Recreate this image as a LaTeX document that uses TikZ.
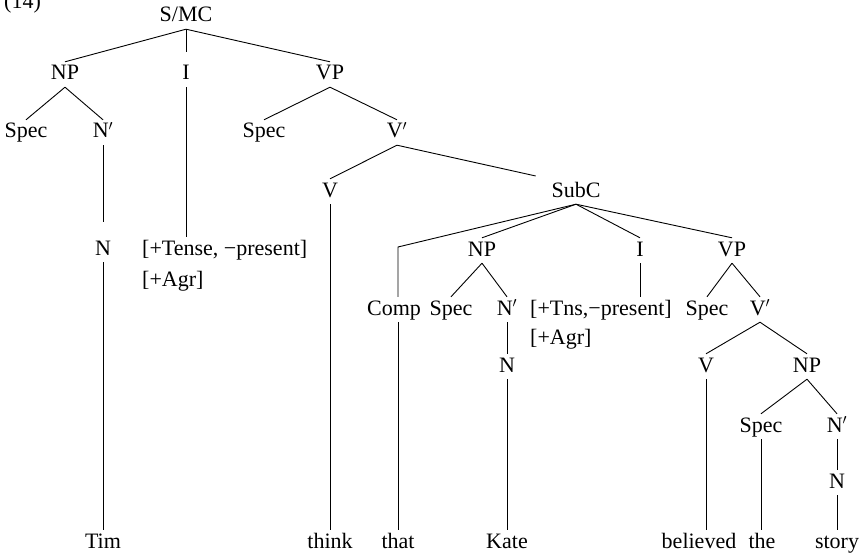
\documentclass[tikz,border=0pt]{standalone}
\usepackage{fontspec}
\setmainfont{Liberation Serif}
\usepackage{tikz}
\tikzset{
  cat/.style={font=\fontsize{22}{26}\selectfont, text height=15pt, text depth=4pt, inner sep=3pt, anchor=base},
  feat/.style={cat, anchor=base west, inner xsep=0pt},
  br/.style={line width=0.9pt},
}

\begin{document}
\begin{tikzpicture}[x=1pt, y=-1pt]
\useasboundingbox (0,0) rectangle (867,556);
\node[cat, anchor=base west, inner sep=0pt] (exno) at (4,9) {(14)};
% main clause
\node[cat] (SMC) at (186,22) {S/MC};
\node[cat] (NPa) at (65,80) {NP};
\node[cat] (Ia) at (186,80) {I};
\node[cat] (VPa) at (330,80) {VP};
\node[cat] (SpecA) at (26,138) {Spec};
\node[cat] (NbarA) at (103,138) {N$'$};
\node[cat] (Na) at (103,255) {N};
\node[feat] (FeatA) at (142,255) {[+Tense, −present]};
\node[feat] (AgrA) at (142,286) {[+Agr]};
\node[cat] (SpecB) at (264,138) {Spec};
\node[cat] (VbarA) at (397,138) {V$'$};
\node[cat] (Va) at (330,197) {V};
\node[cat] (SubC) at (576,197) {SubC};
% subordinate clause
\coordinate (bend) at (398,247);
\node[cat] (Comp) at (394,315) {Comp};
\node[cat] (NPb) at (482,256) {NP};
\node[cat] (Ib) at (640,256) {I};
\node[cat] (VPb) at (732,256) {VP};
\node[cat] (SpecC) at (451,315) {Spec};
\node[cat] (NbarB) at (507,315) {N$'$};
\node[feat] (FeatB) at (530,315) {[+Tns,−present]};
\node[feat] (AgrB) at (530,344) {[+Agr]};
\node[cat] (SpecD) at (707,315) {Spec};
\node[cat] (VbarB) at (760,315) {V$'$};
\node[cat] (Nb) at (507,372) {N};
\node[cat] (Vb) at (706,372) {V};
\node[cat] (NPc) at (807,372) {NP};
\node[cat] (SpecE) at (761,432) {Spec};
\node[cat] (NbarC) at (837,432) {N$'$};
\node[cat] (Nc) at (837,488) {N};
% words
\node[cat] (Tim) at (103,548) {Tim};
\node[cat] (think) at (330,548) {think};
\node[cat] (that) at (398,548) {that};
\node[cat] (Kate) at (507,548) {Kate};
\node[cat] (believed) at (699,548) {believed};
\node[cat] (the) at (762,548) {the};
\node[cat] (story) at (837,548) {story};
% branches
\draw[br] (SMC.south) -- (NPa.north);
\draw[br, shorten >=10pt] (SMC.south) -- (Ia.north);
\draw[br] (SMC.south) -- (VPa.north);
\draw[br] (NPa.south) -- (SpecA.north);
\draw[br] (NPa.south) -- (NbarA.north);
\draw[br, shorten >=15pt] (NbarA.south) -- (Na.north);
\draw[br] (Na.south) -- (Tim.north);
\draw[br] (Ia.south) -- (Ia.south |- FeatA.north);
\draw[br] (VPa.south) -- (SpecB.north);
\draw[br] (VPa.south) -- (VbarA.north);
\draw[br] (VbarA.south) -- (Va.north);
\draw[br, shorten >=13pt] (VbarA.south) -- (SubC.north west);
\draw[br] (Va.south) -- (think.north);
\draw[br] (SubC.south) -- (bend) -- (bend |- Comp.north);
\draw[br] (bend |- Comp.south) -- (that.north);
\draw[br] (SubC.south) -- (NPb.north);
\draw[br] (SubC.south) -- (Ib.north);
\draw[br] (SubC.south) -- (VPb.north);
\draw[br] (NPb.south) -- (SpecC.north);
\draw[br] (NPb.south) -- (NbarB.north);
\draw[br] (NbarB.south) -- (Nb.north);
\draw[br] (Nb.south) -- (Kate.north);
\draw[br] (Ib.south) -- (Ib.south |- FeatB.north);
\draw[br] (VPb.south) -- (SpecD.north);
\draw[br] (VPb.south) -- (VbarB.north);
\draw[br] (VbarB.south) -- (Vb.north);
\draw[br] (VbarB.south) -- (NPc.north);
\draw[br] (Vb.south) -- (Vb.south |- believed.north);
\draw[br] (NPc.south) -- (SpecE.north);
\draw[br] (NPc.south) -- (NbarC.north);
\draw[br] (SpecE.south) -- (SpecE.south |- the.north);
\draw[br] (NbarC.south) -- (Nc.north);
\draw[br] (Nc.south) -- (story.north);
\end{tikzpicture}
\end{document}
